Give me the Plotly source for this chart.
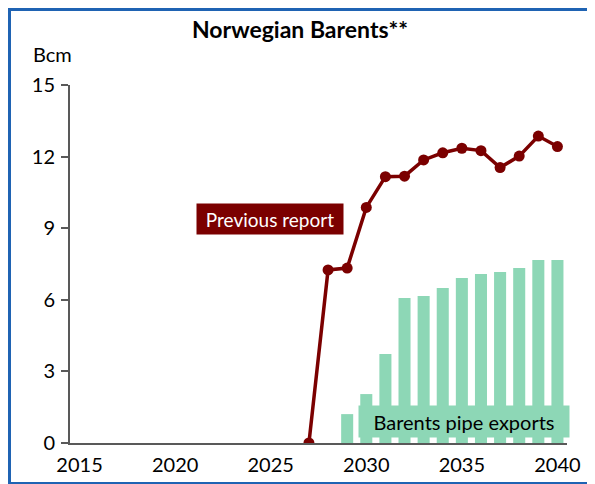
import plotly.graph_objects as go

line_years = [2027, 2028, 2029, 2030, 2031, 2032, 2033, 2034, 2035, 2036, 2037, 2038, 2039, 2040]
previous_report = [0, 7.25, 7.33, 9.87, 11.16, 11.18, 11.86, 12.16, 12.35, 12.25, 11.54, 12.02, 12.86, 12.42]

bar_years = [2029, 2030, 2031, 2032, 2033, 2034, 2035, 2036, 2037, 2038, 2039, 2040]
pipe_exports = [1.21, 2.05, 3.73, 6.08, 6.16, 6.49, 6.91, 7.08, 7.16, 7.33, 7.67, 7.67]

x_ticks = [2015, 2020, 2025, 2030, 2035, 2040]
y_ticks = [0, 3, 6, 9, 12, 15]

FONT = "Lato"
AX = "#595959"
BORDER = "#1f63b3"

# page has an 8px body margin, so the figure is 8px smaller and shifted
W, H = 587, 476
L, R, T, B = 62, 28, 77, 41
PW, PH = W - L - R, H - T - B


def px(fx):
    return (fx - L) / PW


def py(fy):
    return (H - B - fy) / PH


fig = go.Figure()
fig.add_trace(go.Bar(x=bar_years, y=pipe_exports, marker_color="#8dd7b6",
                     marker_line_width=0, width=0.63, name="Barents pipe exports"))
fig.add_trace(go.Scatter(x=line_years, y=previous_report, mode="lines+markers",
                         line=dict(color="#7b0000", width=3.5),
                         marker=dict(color="#7b0000", size=11), name="Previous report"))

fig.update_layout(
    width=W, height=H,
    margin=dict(l=L, r=R, t=T, b=B, autoexpand=False),
    paper_bgcolor="white", plot_bgcolor="white",
    showlegend=False,
    font=dict(family=FONT, size=20, color="black"),
    title=dict(text="<b>Norwegian Barents**</b>", x=292 / W, xanchor="center",
               y=1 - 22 / H, yanchor="middle", font=dict(size=23, family=FONT)),
    xaxis=dict(range=[2014.5, 2040.5], tickvals=x_ticks, showgrid=False,
               showline=True, linecolor=AX, linewidth=2, ticks="", zeroline=False,
               tickfont=dict(size=20), ticklabelstandoff=3, automargin=False),
    yaxis=dict(range=[0, 15], tickvals=y_ticks, showgrid=False,
               showline=True, linecolor=AX, linewidth=2, ticks="outside",
               ticklen=7, tickcolor=AX, tickwidth=2, zeroline=False,
               tickfont=dict(size=20), ticklabelstandoff=2, automargin=False),
    bargap=0.37,
)

fig.add_annotation(text="Bcm", xref="paper", yref="paper", x=px(44), y=py(45.5),
                   xanchor="center", yanchor="middle", showarrow=False, font=dict(size=20))
fig.add_annotation(text="Previous report", x=2024.96, y=9.38, xref="x", yref="y",
                   showarrow=False, bgcolor="#7b0000", font=dict(color="white", size=19),
                   width=146, height=30, borderpad=0)
fig.add_annotation(text="Barents pipe exports", x=2035.1, y=0.9, xref="x", yref="y",
                   showarrow=False, bgcolor="#8dd7b6", font=dict(color="black", size=20),
                   width=210, height=31, borderpad=0)

# frame edges as filled strips inside the figure: left, top, bottom
for x0, y0, x1, y1 in [(0, 0, 3, H), (0, 0, W, 3), (0, H - 2, W, H)]:
    fig.add_shape(type="rect", xref="paper", yref="paper",
                  x0=px(x0), y0=py(y0), x1=px(x1), y1=py(y1),
                  line=dict(width=0), fillcolor=BORDER, layer="above")

fig.write_html("out.html")
